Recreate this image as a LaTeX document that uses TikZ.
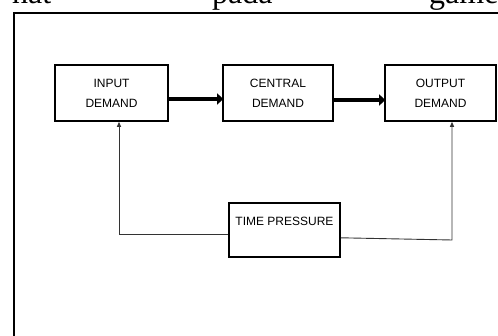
\documentclass[tikz,border=0pt]{standalone}
\usepackage{fontspec}
\setmainfont{Liberation Serif}
\newfontfamily\boxfont{Liberation Sans}
\usetikzlibrary{arrows.meta}

\begin{document}
\begin{tikzpicture}[
    x=1pt, y=-1pt,
    % Define styles for consistent formatting
    demandbox/.style={draw=black, line width=1.6pt, minimum width=112pt, minimum height=56pt,
        align=center, font=\boxfont\fontsize{12}{20}\selectfont, inner sep=0pt},
    flowarrow/.style={line width=4.8pt, -{Triangle[length=6pt, width=11pt]}, shorten >=-1pt},
    linkline/.style={draw=black!80, line width=0.9pt},
    linkarrow/.style={linkline, -{Triangle[length=5pt, width=4pt]}},
    pagetext/.style={font=\fontsize{32}{32}\selectfont, anchor=base west, inner sep=0pt}
]

% Define coordinates for better maintainability
\newcommand{\boxrow}{93}
\newcommand{\framex}{14}
\newcommand{\framey}{13}

\useasboundingbox (0,0) rectangle (498,336);
\clip (0,0) rectangle (498,336);

% Running text of the page, cut at the top
\node [pagetext] (wordone) at (12,3.5) {hat};
\node [pagetext] (wordtwo) at (212,3.5) {pada};
\node [pagetext] (wordthree) at (429,3.5) {game};

% Frame round the figure
\draw [line width=2pt] (\framex,360) -- (\framex,\framey) -- (520,\framey);

% Demand boxes
\node [demandbox, minimum width=113pt] (input) at (111.5,\boxrow) {INPUT\\DEMAND};
\node [demandbox, minimum width=110pt] (central) at (278,\boxrow) {CENTRAL\\DEMAND};
\node [demandbox, minimum width=111pt] (output) at (440.5,\boxrow) {OUTPUT\\DEMAND};
\node [demandbox, minimum width=111pt, minimum height=54pt, anchor=north,
    text depth=25pt, text height=17pt] (pressure) at (284.5,202) {TIME PRESSURE};

% Thick flow arrows
\draw [flowarrow] ([yshift=-6pt]input.east) -- ([yshift=-6pt]central.west);
\draw [flowarrow] ([yshift=-7pt]central.east) -- ([yshift=-7pt]output.west);

% Feedback lines from time pressure
\coordinate (rcorner) at (452,240);
\draw [linkarrow] ([yshift=-5pt]pressure.west) -| ([xshift=7.5pt]input.south);
\draw [linkarrow] ([yshift=-8pt]pressure.east) -- (rcorner) -- (rcorner |- output.south);

\end{tikzpicture}
\end{document}
